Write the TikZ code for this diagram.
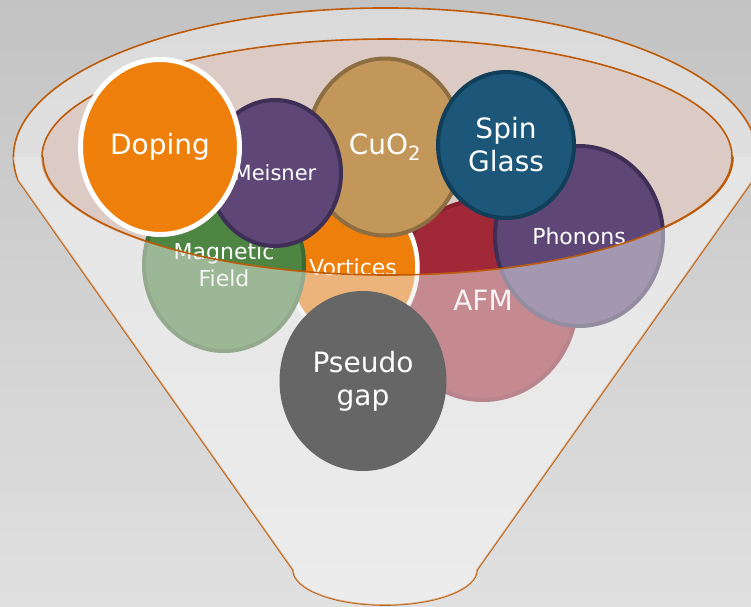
\documentclass[tikz,border=0pt]{standalone}
\usepackage{fontspec}
\setmainfont{DejaVu Sans}
\usetikzlibrary{shapes.geometric}

\definecolor{bgtop}{HTML}{C3C3C3}
\definecolor{bgbottom}{HTML}{E0E0E0}
\definecolor{rim}{HTML}{BE5B08}
\definecolor{funneltop}{HTML}{DADADA}
\definecolor{funnelbottom}{HTML}{F0F0F0}
\definecolor{funnelface}{HTML}{EAEAEA}
\definecolor{bowl}{HTML}{DCCBC4}
\definecolor{dopingfill}{HTML}{EF7F0B}
\definecolor{purplefill}{HTML}{5E4776}
\definecolor{purpleline}{HTML}{3F2F56}
\definecolor{cuofill}{HTML}{C3975A}
\definecolor{cuoline}{HTML}{8D6E42}
\definecolor{spinfill}{HTML}{1C5779}
\definecolor{spinline}{HTML}{113F5A}
\definecolor{afmfill}{HTML}{A02837}
\definecolor{afmline}{HTML}{86202E}
\definecolor{magfill}{HTML}{4E8542}
\definecolor{magline}{HTML}{3C6A33}
\definecolor{gapfill}{HTML}{666666}

\begin{document}
\begin{tikzpicture}[
      x=1pt, y=-1pt, % pixel units, y pointing down
      bubble/.style={ellipse, draw, line width=4pt, inner sep=0pt,
        text=white, align=center},
      bigtext/.style={font=\fontsize{28}{33}\selectfont},
      midtext/.style={font=\fontsize{22}{27}\selectfont},
      smalltext/.style={font=\fontsize{21}{25}\selectfont},
      rimline/.style={draw=rim, line width=1.6pt},
  ]

      \useasboundingbox (0,0) rectangle (751,606);
      \clip (0,0) rectangle (751,606);

      % --- BACKGROUND ---
      \shade[top color=bgtop, bottom color=bgbottom] (0,0) rectangle (751,606);

      % --- FUNNEL BODY ---
      \shade[top color=funneltop, bottom color=funnelbottom]
        (18,180) arc[start angle=171.1, end angle=368.9, x radius=372, y radius=149]
        -- (477,570) arc[start angle=0, end angle=180, x radius=92, y radius=35] -- cycle;
      \draw[rimline]
        (18,180) arc[start angle=171.1, end angle=368.9, x radius=372, y radius=149]
        -- (477,570) arc[start angle=0, end angle=180, x radius=92, y radius=35] -- cycle;

      % --- BOWL (inner ellipse) ---
      \draw[rimline, fill=bowl] (387,157) ellipse[x radius=345, y radius=118];

      % --- BUBBLES, back to front ---
      \node[bubble, bigtext, fill=afmfill, draw=afmline, minimum width=188, minimum height=200] (afm) at (483,300) {AFM};
      \node[bubble, midtext, fill=dopingfill, draw=white, line width=4.5pt, minimum width=129, minimum height=147] (vortices) at (353,267) {Vortices};
      \node[bubble, midtext, fill=magfill, draw=magline, minimum width=160, minimum height=172] (magfield) at (224,265) {Magnetic\\Field};
      \node[bubble, bigtext, fill=cuofill, draw=cuoline, minimum width=156, minimum height=177] (cuo) at (385,147) {CuO\textsubscript{2}};
      \node[bubble, smalltext, fill=purplefill, draw=purpleline, minimum width=132, minimum height=146] (meisner) at (275,173) {Meisner};
      \node[bubble, midtext, fill=purplefill, draw=purpleline, minimum width=168, minimum height=180] (phonons) at (579,236) {Phonons};
      \node[bubble, bigtext, fill=spinfill, draw=spinline, minimum width=136, minimum height=146] (spinglass) at (506,145) {Spin\\Glass};
      \node[bubble, bigtext, fill=dopingfill, draw=white, line width=5pt, minimum width=159, minimum height=175] (doping) at (160,147) {Doping};

      % --- FRONT FACE OF THE FUNNEL ---
      \fill[funnelface, fill opacity=0.5]
        (43,157) arc[start angle=180, end angle=0, x radius=345, y radius=118]
        -- (760,157) -- (753,180) -- (477,570)
        arc[start angle=0, end angle=180, x radius=92, y radius=35]
        -- (18,180) -- (13,157) -- cycle;
      \draw[rimline] (43,157) arc[start angle=180, end angle=0, x radius=345, y radius=118];

      % --- OUT IN FRONT ---
      \node[bubble, bigtext, fill=gapfill, draw=none, minimum width=167, minimum height=180] (pseudogap) at (363,381) {Pseudo\\gap};

  \end{tikzpicture}
\end{document}
